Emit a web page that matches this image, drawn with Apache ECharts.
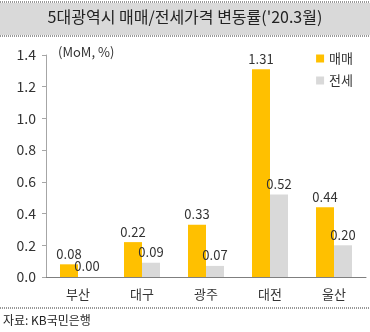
<!DOCTYPE html>
<html><head><meta charset="utf-8">
<script src="https://cdn.jsdelivr.net/npm/echarts@6/dist/echarts.min.js"></script>
<style>html,body{margin:0;padding:0;background:#fff}#c{width:370px;height:332px}</style>
</head><body><div id="c"></div>
<script>
const categories = ['부산','대구','광주','대전','울산'];
const saleValues = [0.08, 0.22, 0.33, 1.31, 0.44];
const jeonseValues = [0.00, 0.09, 0.07, 0.52, 0.20];
const seriesNames = ['매매','전세'];
const titleText = "5대광역시 매매/전세가격 변동률('20.3월)";
const unitText = '(MoM, %)';
const sourceText = '자료: KB국민은행';
const FONT = '"Noto Sans CJK KR", "Noto Sans", sans-serif';

const chart = echarts.init(document.getElementById('c'), null, {renderer:'canvas'});
const lbl = {show:true, position:'top', distance:4, color:'#333', fontSize:13, fontFamily:FONT, formatter: p => p.value.toFixed(2)};
chart.setOption({
  animation:false,
  textStyle:{fontFamily:FONT},
  grid:{left:46, right:4, top:55, bottom:55, containLabel:false},
  legend:{orient:'vertical', right:12, top:47, itemWidth:8, itemHeight:8, itemGap:9,
    icon:'rect', textStyle:{fontSize:13, color:'#333', fontFamily:FONT}, data:seriesNames},
  xAxis:{type:'category', data:categories,
    axisLine:{lineStyle:{color:'#7f7f7f', width:1}}, axisTick:{show:false},
    axisLabel:{color:'#333', fontSize:13, margin:11, fontFamily:FONT}},
  yAxis:{type:'value', min:0, max:1.4, interval:0.2,
    splitLine:{show:false},
    axisLine:{show:true, lineStyle:{color:'#a6a6a6'}},
    axisTick:{show:true, length:4, lineStyle:{color:'#a6a6a6'}},
    axisLabel:{color:'#333', fontSize:14, margin:10, fontFamily:FONT, formatter: v => v.toFixed(1)}},
  series:[
    {name:seriesNames[0], type:'bar', data:saleValues, barWidth:18, barGap:'0%', itemStyle:{color:'#FFC000'}, label:lbl},
    {name:seriesNames[1], type:'bar', data:jeonseValues, barWidth:18, itemStyle:{color:'#D9D9D9'}, label:lbl}
  ],
  graphic:[
    {type:'rect', left:0, top:3, shape:{width:370, height:32}, style:{fill:'#D9D9D9'}},
    {type:'line', shape:{x1:0,y1:2,x2:370,y2:2}, style:{stroke:'#333', lineWidth:1, lineDash:[1,1]}},
    {type:'line', shape:{x1:0,y1:36,x2:370,y2:36}, style:{stroke:'#333', lineWidth:1, lineDash:[1,1]}},
    {type:'text', left:'center', top:9, style:{text:titleText, fontSize:16, fill:'#222', fontFamily:FONT}},
    {type:'text', left:58, top:46, style:{text:unitText, fontSize:13, fill:'#333', fontFamily:FONT}},
    {type:'line', shape:{x1:0,y1:308,x2:370,y2:308}, style:{stroke:'#333', lineWidth:1, lineDash:[1,1]}},
    {type:'text', left:3, top:314, style:{text:sourceText, fontSize:12, fill:'#222', fontFamily:FONT}}
  ]
});
</script></body></html>
